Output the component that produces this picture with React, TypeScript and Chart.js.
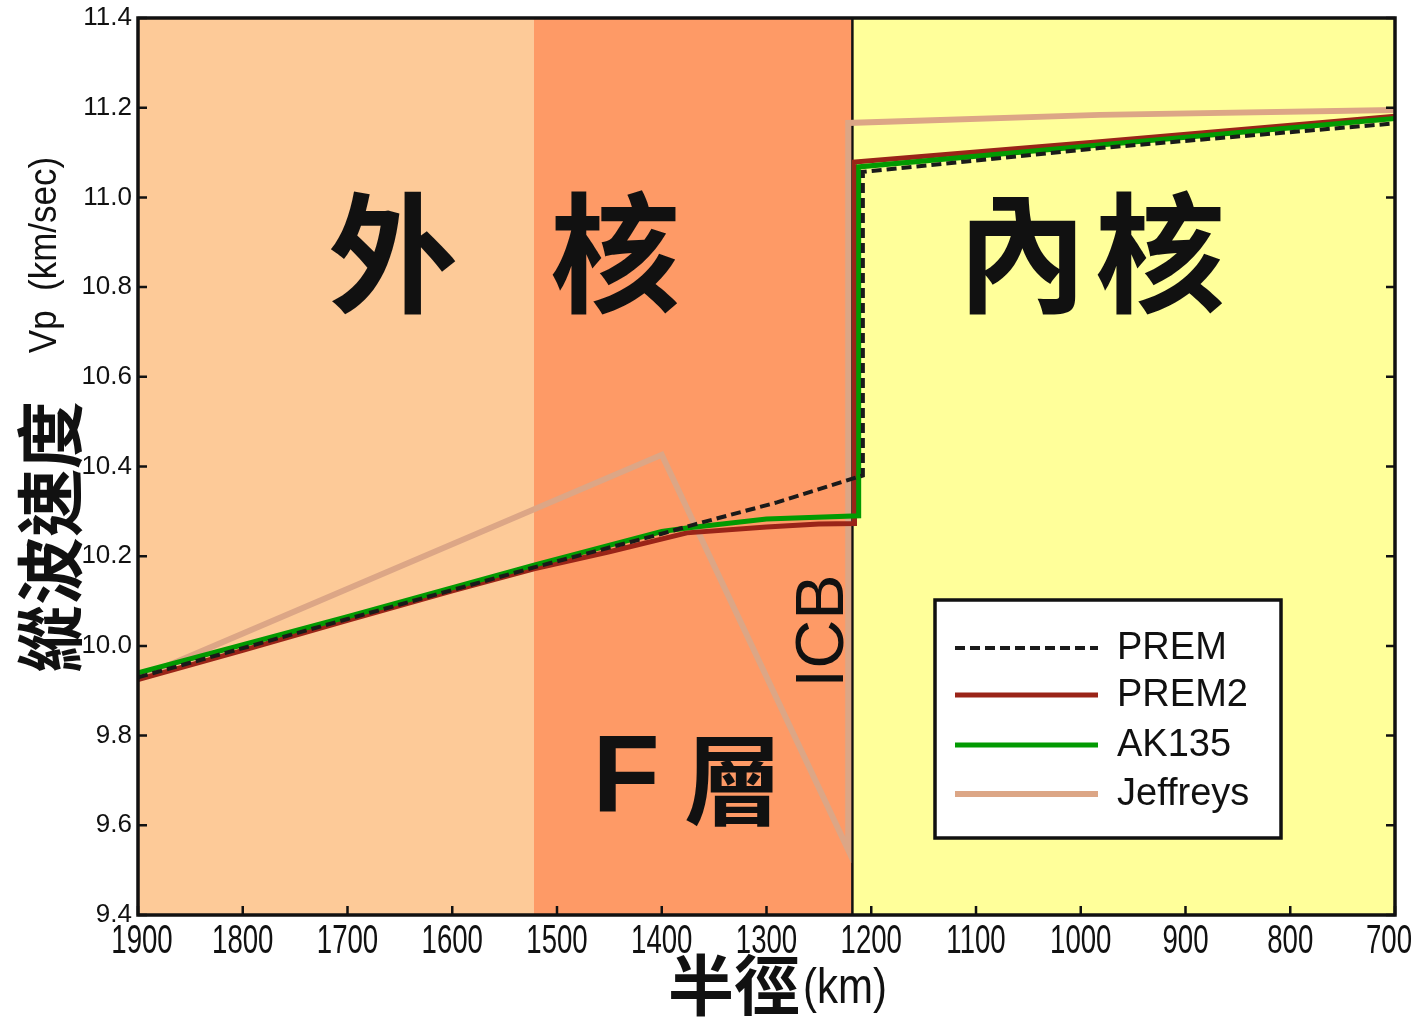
import React, { useEffect, useRef } from "react";
import { Chart, registerables } from "chart.js";

Chart.register(...registerables);

// ---- data (radius in km, Vp in km/s) ----
const xTickValues = [1900, 1800, 1700, 1600, 1500, 1400, 1300, 1200, 1100, 1000, 900, 800, 700];
const yTickValues = [9.4, 9.6, 9.8, 10.0, 10.2, 10.4, 10.6, 10.8, 11.0, 11.2, 11.4];

const regionBounds = [1900, 1522, 1218, 700];
const regionNames = ["外　核", "F 層", "內核"];
const icbRadius = 1218;

const premR = [1900, 1700, 1522, 1400, 1370, 1290, 1208, 1208, 982, 700];
const premV = [9.93, 10.06, 10.175, 10.25, 10.27, 10.32, 10.38, 11.057, 11.11, 11.165];

const prem2R = [1900, 1800, 1700, 1600, 1522, 1450, 1376, 1300, 1250, 1216, 1216, 982, 700];
const prem2V = [9.925, 9.99, 10.057, 10.123, 10.172, 10.21, 10.252, 10.265, 10.272, 10.273, 11.079, 11.124, 11.181];

const ak135R = [1900, 1700, 1522, 1400, 1376, 1300, 1212, 1212, 982, 700];
const ak135V = [9.94, 10.065, 10.18, 10.255, 10.263, 10.283, 10.29, 11.068, 11.117, 11.176];

const jeffR = [1900, 1400, 1222, 1222, 982, 700];
const jeffV = [9.928, 10.426, 9.545, 11.166, 11.184, 11.195];

const seriesNames = ["PREM", "PREM2", "AK135", "Jeffreys"];

const toPoints = (r: number[], v: number[]) => r.map((rr, i) => ({ x: rr, y: v[i] }));

const COLORS = {
  prem: "#1a1a1a",
  prem2: "#9a2418",
  ak135: "#029a02",
  jeff: "#dca686",
  outer: "#fdca98",
  flayer: "#fe9a66",
  inner: "#ffff9a",
};

const decorPlugin = {
  id: "decor",
  beforeDatasetsDraw(chart: any) {
    const { ctx, chartArea: a, scales } = chart;
    const x = scales.x;
    const fills = [COLORS.outer, COLORS.flayer, COLORS.inner];
    ctx.save();
    for (let i = 0; i < fills.length; i++) {
      const p0 = x.getPixelForValue(regionBounds[i]);
      const p1 = x.getPixelForValue(regionBounds[i + 1]);
      ctx.fillStyle = fills[i];
      ctx.fillRect(Math.min(p0, p1), a.top, Math.abs(p1 - p0), a.bottom - a.top);
    }
    // ICB boundary
    const icb = x.getPixelForValue(icbRadius);
    ctx.strokeStyle = "#111";
    ctx.lineWidth = 2.5;
    ctx.beginPath();
    ctx.moveTo(icb, a.top);
    ctx.lineTo(icb, a.bottom);
    ctx.stroke();

    // big region labels
    ctx.fillStyle = "#111";
    ctx.textBaseline = "middle";
    ctx.textAlign = "center";
    ctx.font = "bold 130px 'Noto Sans CJK TC'";
    const outerChars = regionNames[0].split("");
    ctx.fillText(outerChars[0], 393, 253);
    ctx.fillText(outerChars[2], 615, 253);
    const innerChars = regionNames[2].split("");
    ctx.fillText(innerChars[0], 1022, 253);
    ctx.fillText(innerChars[1], 1160, 253);
    // F layer
    const fChars = regionNames[1].split(" ");
    ctx.font = "bold 110px 'Liberation Sans', Arial, sans-serif";
    ctx.fillText(fChars[0], 626, 782);
    ctx.font = "bold 98px 'Noto Sans CJK TC'";
    ctx.fillText(fChars[1], 733, 780);
    // ICB
    ctx.save();
    ctx.translate(822, 631);
    ctx.rotate(-Math.PI / 2);
    ctx.font = "68px 'Liberation Sans', Arial, sans-serif";
    ctx.fillText("ICB", 0, 2);
    ctx.restore();
    ctx.restore();
  },
  afterDatasetsDraw(chart: any) {
    const { ctx, chartArea: a, scales } = chart;
    const x = scales.x;
    const y = scales.y;
    ctx.save();
    // ticks inside
    ctx.strokeStyle = "#111";
    ctx.lineWidth = 2.5;
    ctx.beginPath();
    for (const v of yTickValues) {
      const py = y.getPixelForValue(v);
      ctx.moveTo(a.left, py);
      ctx.lineTo(a.left + 9, py);
      ctx.moveTo(a.right, py);
      ctx.lineTo(a.right - 9, py);
    }
    for (const v of xTickValues) {
      const px = x.getPixelForValue(v);
      ctx.moveTo(px, a.bottom);
      ctx.lineTo(px, a.bottom - 9);
    }
    ctx.stroke();
    // frame
    ctx.lineWidth = 3.5;
    ctx.strokeRect(a.left, a.top, a.right - a.left, a.bottom - a.top);

    // legend
    const lx = 935, ly = 600, lw = 346, lh = 238;
    ctx.fillStyle = "#ffffff";
    ctx.fillRect(lx, ly, lw, lh);
    ctx.lineWidth = 3.5;
    ctx.strokeStyle = "#111";
    ctx.strokeRect(lx, ly, lw, lh);
    const rows = [648, 695, 745, 794];
    const ds = chart.data.datasets;
    ctx.font = "38px 'Liberation Sans', Arial, sans-serif";
    ctx.textBaseline = "middle";
    ctx.textAlign = "left";
    for (let i = 0; i < ds.length; i++) {
      const d = ds[i];
      ctx.save();
      ctx.strokeStyle = d.borderColor;
      ctx.lineWidth = d.borderWidth;
      ctx.setLineDash(d.borderDash || []);
      ctx.lineCap = "butt";
      ctx.beginPath();
      ctx.moveTo(955, rows[i]);
      ctx.lineTo(1098, rows[i]);
      ctx.stroke();
      ctx.restore();
      ctx.fillStyle = "#111";
      ctx.fillText(d.label, 1117, rows[i] + 1);
    }
    ctx.restore();
  },
  afterDraw(chart: any) {
    const { ctx, chartArea: a, scales } = chart;
    const x = scales.x;
    ctx.save();
    ctx.fillStyle = "#111";
    ctx.textBaseline = "middle";
    ctx.textAlign = "center";
    // x tick labels (tall, narrow lettering like the original)
    ctx.font = "30px 'Liberation Sans', Arial, sans-serif";
    for (const v of xTickValues) {
      const px = Math.min(Math.max(x.getPixelForValue(v), a.left + 4), a.right - 6);
      ctx.save();
      ctx.translate(px, a.bottom + 27);
      ctx.scale(0.92, 1.35);
      ctx.fillText(String(v), 0, 0);
      ctx.restore();
    }
    // y title
    ctx.save();
    ctx.translate(50, 537);
    ctx.rotate(-Math.PI / 2);
    ctx.font = "bold 68px 'Noto Sans CJK TC'";
    ctx.fillText("縱波速度", 0, 0);
    ctx.restore();
    ctx.save();
    ctx.translate(45, 255);
    ctx.rotate(-Math.PI / 2);
    ctx.scale(1, 1.1);
    ctx.font = "35px 'Liberation Sans', Arial, sans-serif";
    ctx.fillText("Vp  (km/sec)", 0, 0);
    ctx.restore();
    // x title
    ctx.textAlign = "left";
    ctx.font = "bold 66px 'Noto Sans CJK TC'";
    ctx.fillText("半徑", 668, 985);
    ctx.save();
    ctx.translate(803, 989);
    ctx.scale(1.05, 1.25);
    ctx.font = "40px 'Liberation Sans', Arial, sans-serif";
    ctx.fillText("(km)", 0, 0);
    ctx.restore();
    ctx.restore();
  },
};

export default function App() {
  const ref = useRef<HTMLCanvasElement | null>(null);
  useEffect(() => {
    if (!ref.current) return;
    const chart = new Chart(ref.current, {
      type: "line",
      data: {
        datasets: [
          {
            label: seriesNames[0],
            data: toPoints(premR, premV),
            borderColor: COLORS.prem,
            borderWidth: 4,
            borderDash: [10, 5],
            pointRadius: 0,
            order: 1,
          },
          {
            label: seriesNames[1],
            data: toPoints(prem2R, prem2V),
            borderColor: COLORS.prem2,
            borderWidth: 5,
            pointRadius: 0,
            order: 3,
          },
          {
            label: seriesNames[2],
            data: toPoints(ak135R, ak135V),
            borderColor: COLORS.ak135,
            borderWidth: 5,
            pointRadius: 0,
            order: 2,
          },
          {
            label: seriesNames[3],
            data: toPoints(jeffR, jeffV),
            borderColor: COLORS.jeff,
            borderWidth: 6,
            pointRadius: 0,
            order: 4,
          },
        ],
      },
      options: {
        animation: false,
        responsive: false,
        devicePixelRatio: 1,
        layout: { padding: { top: 18, right: 18, left: 0, bottom: 0 } },
        plugins: { legend: { display: false }, tooltip: { enabled: false } },
        scales: {
          x: {
            type: "linear",
            reverse: true,
            min: 700,
            max: 1900,
            afterFit: (s: any) => {
              s.height = 103;
              s.paddingLeft = 0;
              s.paddingRight = 0;
            },
            afterBuildTicks: (s: any) => {
              s.ticks = xTickValues.map((v) => ({ value: v }));
            },
            grid: { display: false, drawTicks: false },
            border: { display: false },
            ticks: { display: false, autoSkip: false },
          },
          y: {
            type: "linear",
            min: 9.4,
            max: 11.4,
            afterFit: (s: any) => {
              s.width = 138;
              s.paddingTop = 0;
              s.paddingBottom = 0;
            },
            afterBuildTicks: (s: any) => {
              s.ticks = yTickValues.map((v) => ({ value: v }));
            },
            grid: { display: false, drawTicks: false },
            border: { display: false },
            ticks: {
              padding: 6,
              autoSkip: false,
              color: "#111",
              font: { family: "'Liberation Sans', Arial", size: 26 },
              callback: (v: any) => Number(v).toFixed(1),
            },
          },
        },
      },
      plugins: [decorPlugin],
    });
    return () => chart.destroy();
  }, []);
  return (
    <canvas
      ref={ref}
      width={1413}
      height={1018}
      style={{ position: "absolute", left: 0, top: 0, width: 1413, height: 1018, background: "#fff" }}
    />
  );
}
